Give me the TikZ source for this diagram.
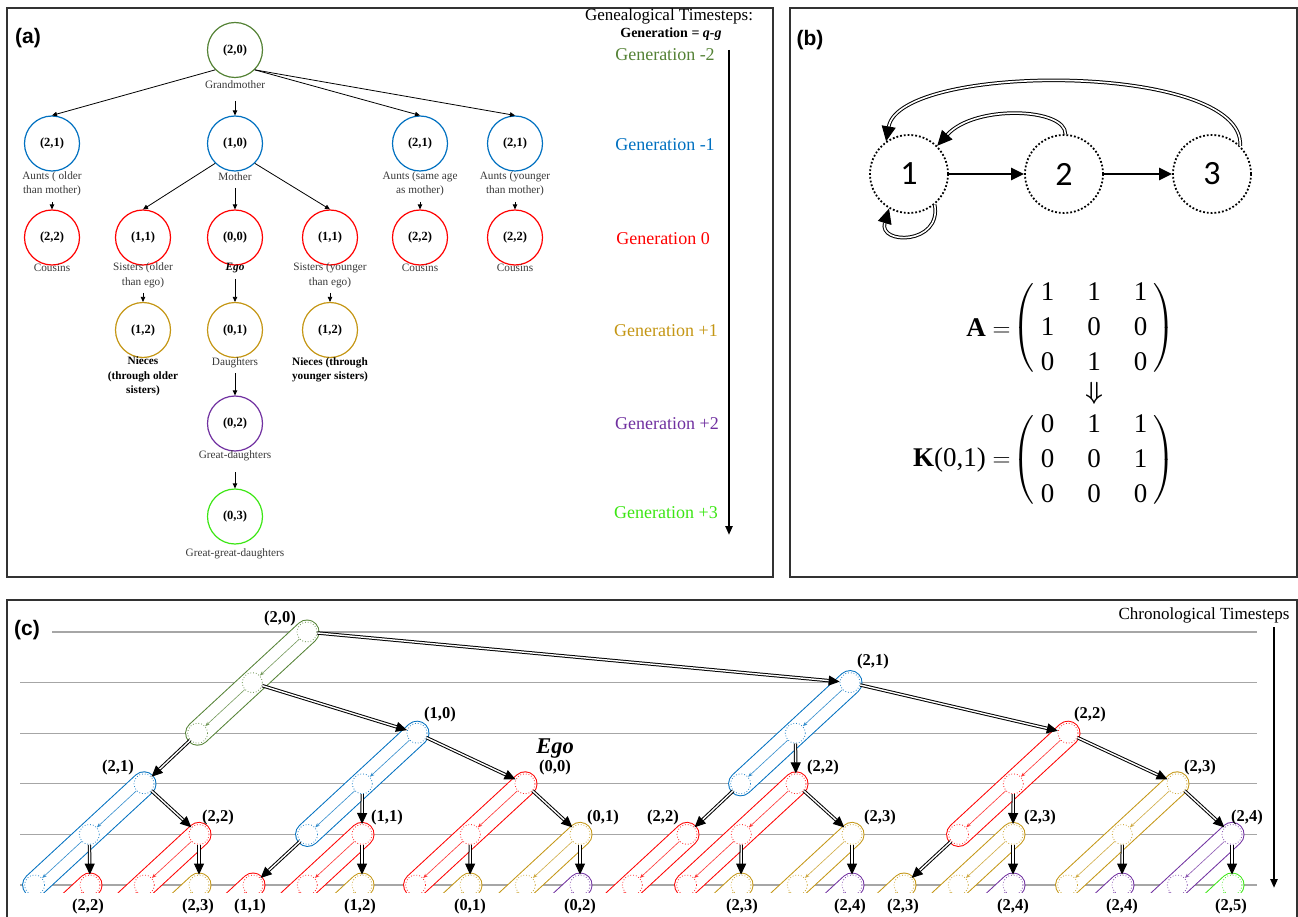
\documentclass[tikz,border=0pt]{standalone}
\usepackage{amsmath}
\usepackage{fontspec}
\setmainfont{Liberation Serif}
\newfontfamily\panelfont{Liberation Sans}
\newfontfamily\statefont{Carlito}
\usetikzlibrary{arrows.meta,positioning}
\definecolor{genm2}{RGB}{84,130,53}
\definecolor{genm1}{RGB}{0,112,192}
\definecolor{gen0}{RGB}{255,0,0}
\definecolor{genp1}{RGB}{196,150,20}
\definecolor{genp2}{RGB}{112,48,160}
\definecolor{genp3}{RGB}{60,230,20}
\definecolor{framegray}{RGB}{50,50,50}
\newcommand{\matrows}[1]{\fontsize{27}{35}\selectfont
  $\left(\rule[-37pt]{0pt}{88pt}\smash{\begin{tabular}{@{\hspace{6pt}}c@{\hspace{33pt}}c@{\hspace{33pt}}c@{\hspace{6pt}}}#1\end{tabular}}\right)$}

\begin{document}
\begin{tikzpicture}[x=1pt,y=1pt,
  frame/.style={draw=framegray, line width=1.5pt},
  panlbl/.style={font=\panelfont\bfseries\fontsize{21}{21}\selectfont, inner sep=0pt},
  famcirc/.style={circle, minimum size=55pt, inner sep=0pt, line width=1.2pt,
    font=\bfseries\fontsize{12.5}{12.5}\selectfont},
  famlbl/.style={font=\fontsize{11.25}{14.5}\selectfont, text=black!78, align=center, inner sep=0pt},
  nieces/.style={font=\bfseries\fontsize{11.25}{14.5}\selectfont, text=black},
  famarr/.style={-{Triangle[length=5pt,width=4.5pt]}, line width=0.8pt},
  genlbl/.style={font=\rmfamily\fontsize{18}{18}\selectfont, inner sep=0pt},
  timearr/.style={line width=2.5pt, -{Triangle[length=9pt,width=7pt]}},
  state/.style={circle, draw, line width=1.8pt, dotted, minimum size=78pt, inner sep=0pt,
    font=\statefont\fontsize{34}{34}\selectfont},
  fwd/.style={line width=2.6pt, -{Triangle[length=13pt,width=12pt]}},
  back/.style={double, double distance=1.6pt, line width=1pt, -{Triangle[length=15pt,width=14pt]}},
  tline/.style={draw=black!35, line width=1.3pt},
  slot/.style={circle, dotted, line width=0.8pt, minimum size=20pt, inner sep=0pt},
  inarr/.style={line width=0.6pt, -{Stealth[length=4.5pt,width=3.5pt]}},
  kin/.style={double, double distance=1.4pt, line width=1pt, -{Triangle[length=11pt,width=10pt]}},
  tlbl/.style={font=\bfseries\fontsize{16.5}{16.5}\selectfont, inner sep=0pt}
]
\useasboundingbox (0,0) rectangle (1298,-917);

% frames and panel letters
\draw[frame] (7,-8) rectangle (773,-577);
\draw[frame] (790,-8) rectangle (1297,-577);
\draw[frame] (7,-917) |- (1297,-600) -- (1297,-917);
\node[panlbl] (pa) at (28,-38) {(a)};
\node[panlbl] (pb) at (810,-40) {(b)};
\node[panlbl] (pc) at (27,-630) {(c)};

% panel (a): kinship tree
\node[famcirc, draw=genm2] (gm) at (235,-50) {(2,0)};
\node[famlbl] (gml) at (235,-85) {Grandmother};
\node[famcirc, draw=genm1] (aunt1) at (52,-143.5) {(2,1)};
\node[famlbl] (aunt1l) at (52,-184) {Aunts ( older\\than mother)};
\node[famcirc, draw=genm1] (mo) at (235,-143.5) {(1,0)};
\node[famlbl] (mol) at (235,-177) {Mother};
\node[famcirc, draw=genm1] (aunt2) at (420,-143.5) {(2,1)};
\node[famlbl] (aunt2l) at (420,-184) {Aunts (same age\\as mother)};
\node[famcirc, draw=genm1] (aunt3) at (515,-143.5) {(2,1)};
\node[famlbl] (aunt3l) at (515,-184) {Aunts (younger\\than mother)};
\node[famcirc, draw=gen0] (cou1) at (52,-237.5) {(2,2)};
\node[famlbl] (cou1l) at (52,-268) {Cousins};
\node[famcirc, draw=gen0] (sis1) at (143,-237.5) {(1,1)};
\node[famlbl] (sis1l) at (143,-275.5) {Sisters (older\\than ego)};
\node[famcirc, draw=gen0] (ego) at (235,-237.5) {(0,0)};
\node[famlbl, font=\bfseries\itshape\fontsize{11.25}{14.5}\selectfont, text=black] (egol) at (235,-268) {Ego};
\node[famcirc, draw=gen0] (sis2) at (330,-237.5) {(1,1)};
\node[famlbl] (sis2l) at (330,-275.5) {Sisters (younger\\than ego)};
\node[famcirc, draw=gen0] (cou2) at (420,-237.5) {(2,2)};
\node[famlbl] (cou2l) at (420,-268) {Cousins};
\node[famcirc, draw=gen0] (cou3) at (515,-237.5) {(2,2)};
\node[famlbl] (cou3l) at (515,-268) {Cousins};
\node[famcirc, draw=genp1] (nie1) at (143,-330) {(1,2)};
\node[famlbl, nieces] (nie1l) at (143,-376.7) {Nieces\\(through older\\sisters)};
\node[famcirc, draw=genp1] (dau) at (235,-330) {(0,1)};
\node[famlbl] (daul) at (235,-363) {Daughters};
\node[famcirc, draw=genp1] (nie2) at (330,-330) {(1,2)};
\node[famlbl, nieces] (nie2l) at (330,-370) {Nieces (through\\younger sisters)};
\node[famcirc, draw=genp2] (gd) at (235,-423.5) {(0,2)};
\node[famlbl] (gdl) at (235,-456) {Great-daughters};
\node[famcirc, draw=genp3] (ggd) at (235,-516.5) {(0,3)};
\node[famlbl] (ggdl) at (235,-554) {Great-great-daughters};

\coordinate (f1) at (235,-101);
\coordinate (f2) at (52,-202);
\coordinate (f3) at (235,-188);
\coordinate (f4) at (420,-202);
\coordinate (f5) at (515,-202);
\coordinate (f6) at (143,-293);
\coordinate (f7) at (235,-279);
\coordinate (f8) at (330,-293);
\coordinate (f9) at (235,-373);
\coordinate (f10) at (235,-472);
\draw[famarr] (gm.225) -- (aunt1.north);
\draw[famarr] (gm.-45) -- (aunt2.north);
\draw[famarr] (gm.-45) -- (aunt3.north);
\draw[famarr] (mo.225) -- (sis1.north);
\draw[famarr] (mo.-45) -- (sis2.north);
\draw[famarr] (f1) -- (mo.north);
\draw[famarr] (f2) -- (cou1.north);
\draw[famarr] (f3) -- (ego.north);
\draw[famarr] (f4) -- (cou2.north);
\draw[famarr] (f5) -- (cou3.north);
\draw[famarr] (f6) -- (nie1.north);
\draw[famarr] (f7) -- (dau.north);
\draw[famarr] (f8) -- (nie2.north);
\draw[famarr] (f9) -- (gd.north);
\draw[famarr] (f10) -- (ggd.north);

% genealogical timesteps
\node[font=\fontsize{17}{17}\selectfont, inner sep=0pt] (gts) at (669,-16) {Genealogical Timesteps:};
\node[font=\bfseries\fontsize{14}{14}\selectfont, inner sep=0pt] (gdef) at (671,-34) {Generation = \textit{q-g}};
\node[genlbl, text=genm2] (gl1) at (665,-55) {Generation -2};
\node[genlbl, text=genm1] (gl2) at (665,-145) {Generation -1};
\node[genlbl, text=gen0] (gl3) at (663,-239) {Generation 0};
\node[genlbl, text=genp1] (gl4) at (666,-331) {Generation +1};
\node[genlbl, text=genp2] (gl5) at (667,-424) {Generation +2};
\node[genlbl, text=genp3] (gl6) at (666,-513) {Generation +3};
\coordinate (ga1) at (729,-50);
\coordinate (ga2) at (729,-535);
\draw[timearr] (ga1) -- (ga2);

% panel (b): life cycle graph and matrices
\node[state] (s1) at (909,-174) {1};
\node[state] (s2) at (1064,-174) {2};
\node[state] (s3) at (1212,-174) {3};
\draw[fwd] (s1) -- (s2);
\draw[fwd] (s2) -- (s3);
\draw[back] (s3.45) .. controls (1245,-62) and (900,-62) .. (s1.125);
\draw[back] (s2.88) .. controls (1066,-108) and (975,-104) .. (s1.45);
\draw[back] (s1.-50) .. controls (942,-245) and (878,-245) .. (s1.240);

\node[anchor=east] (eqa) at (1014,-328) {\fontsize{27}{35}\selectfont\textbf{A} $=$};
\node (mata) at (1094,-328) {\matrows{1&1&1\\1&0&0\\0&1&0}};
\node (imp) at (1094,-393) {\fontsize{24}{24}\selectfont$\boldsymbol{\Downarrow}$};
\node[anchor=east] (eqk) at (1014,-460) {\fontsize{27}{35}\selectfont\textbf{K}(0,1) $=$};
\node (matk) at (1094,-460) {\matrows{0&1&1\\0&0&1\\0&0&0}};

% panel (c): chronological timesteps
\begin{scope}
  \clip (8,-601) rectangle (1296,-892);
  \draw[tline] (52,-632) -- (1257,-632);
  \foreach \t in {1,...,5}
    \draw[tline] (20,-632-50.6*\t) -- (1257,-632-50.6*\t);
  \foreach \n/\x/\t/\c in {G0/307/0/genm2, B1/144/3/genm1, B2/417/2/genm1, B3/850/1/genm1,
      R1/199/4/gen0, R2/90/5/gen0, R3/362/4/gen0, R4/253/5/gen0, R5/525/3/gen0,
      R6/796/3/gen0, R7/687/4/gen0, R8/1068/2/gen0,
      Y1/199/5/genp1, Y2/362/5/genp1, Y3/470/5/genp1, Y4/580/4/genp1, Y5/741/5/genp1,
      Y6/852/4/genp1, Y7/904/5/genp1, Y8/1013/4/genp1, Y9/1177/3/genp1,
      P1/580/5/genp2, P2/852/5/genp2, P3/1013/5/genp2, P4/1122/5/genp2, P5/1232/4/genp2,
      L1/1232/5/genp3} {
    \pgfmathsetmacro{\ya}{-632-50.6*\t}
    \draw[line width=25pt, line cap=round, color=\c] (\x,\ya) -- ++(-109.4,-101.2);
    \draw[line width=23pt, line cap=round, white] (\x,\ya) -- ++(-109.4,-101.2);
    \node[slot, draw=\c!85] (\n-1) at (\x,\ya) {};
    \node[slot, draw=\c!85] (\n-2) at ([shift={(-54.7,-50.6)}]\n-1) {};
    \node[slot, draw=\c!85] (\n-3) at ([shift={(-54.7,-50.6)}]\n-2) {};
    \draw[inarr, color=\c!80] (\n-1) -- (\n-2);
    \draw[inarr, color=\c!80] (\n-2) -- (\n-3);
  }
  \draw[kin] (G0-1) -- (B3-1);
  \draw[kin] (G0-2) -- (B2-1);
  \draw[kin] (G0-3) -- (B1-1);
  \draw[kin] (B1-1) -- (R1-1);
  \draw[kin] (B1-2) -- (R2-1);
  \draw[kin] (R1-1) -- (Y1-1);
  \draw[kin] (B2-1) -- (R5-1);
  \draw[kin] (B2-2) -- (R3-1);
  \draw[kin] (B2-3) -- (R4-1);
  \draw[kin] (R3-1) -- (Y2-1);
  \draw[kin] (R5-1) -- (Y4-1);
  \draw[kin] (R5-2) -- (Y3-1);
  \draw[kin] (Y4-1) -- (P1-1);
  \draw[kin] (B3-1) -- (R8-1);
  \draw[kin] (B3-2) -- (R6-1);
  \draw[kin] (B3-3) -- (R7-1);
  \draw[kin] (R6-1) -- (Y6-1);
  \draw[kin] (R6-2) -- (Y5-1);
  \draw[kin] (Y6-1) -- (P2-1);
  \draw[kin] (R8-1) -- (Y9-1);
  \draw[kin] (R8-2) -- (Y8-1);
  \draw[kin] (R8-3) -- (Y7-1);
  \draw[kin] (Y8-1) -- (P3-1);
  \draw[kin] (Y9-1) -- (P5-1);
  \draw[kin] (Y9-2) -- (P4-1);
  \draw[kin] (P5-1) -- (L1-1);
\end{scope}

% labels of panel (c)
\node[tlbl] (tG0) at (280,-619) {(2,0)};
\node[tlbl] (tB1) at (118,-768) {(2,1)};
\node[tlbl] (tB2) at (440,-715) {(1,0)};
\node[tlbl] (tB3) at (873,-662) {(2,1)};
\node[tlbl] (tR1) at (218,-818) {(2,2)};
\node[tlbl] (tR2) at (88,-907) {(2,2)};
\node[tlbl] (tR3) at (387,-818) {(1,1)};
\node[tlbl] (tR4) at (250,-907) {(1,1)};
\node[tlbl, font=\bfseries\itshape\fontsize{22.5}{22.5}\selectfont] (tEgo) at (555,-749) {Ego};
\node[tlbl] (tR5) at (555,-768) {(0,0)};
\node[tlbl] (tR6) at (823,-768) {(2,2)};
\node[tlbl] (tR7) at (663,-818) {(2,2)};
\node[tlbl] (tR8) at (1090,-715) {(2,2)};
\node[tlbl] (tY1) at (198,-907) {(2,3)};
\node[tlbl] (tY2) at (360,-907) {(1,2)};
\node[tlbl] (tY3) at (470,-907) {(0,1)};
\node[tlbl] (tY4) at (603,-818) {(0,1)};
\node[tlbl] (tY5) at (742,-907) {(2,3)};
\node[tlbl] (tY6) at (880,-818) {(2,3)};
\node[tlbl] (tY7) at (903,-907) {(2,3)};
\node[tlbl] (tY8) at (1040,-818) {(2,3)};
\node[tlbl] (tY9) at (1200,-768) {(2,3)};
\node[tlbl] (tP1) at (580,-907) {(0,2)};
\node[tlbl] (tP2) at (850,-907) {(2,4)};
\node[tlbl] (tP3) at (1013,-907) {(2,4)};
\node[tlbl] (tP4) at (1122,-907) {(2,4)};
\node[tlbl] (tP5) at (1247,-818) {(2,4)};
\node[tlbl] (tL1) at (1231,-907) {(2,5)};

\node[font=\fontsize{17}{17}\selectfont, inner sep=0pt] (chron) at (1204,-615) {Chronological Timesteps};
\coordinate (ct1) at (1274,-627);
\coordinate (ct2) at (1274,-888);
\draw[timearr] (ct1) -- (ct2);
\end{tikzpicture}
\end{document}
